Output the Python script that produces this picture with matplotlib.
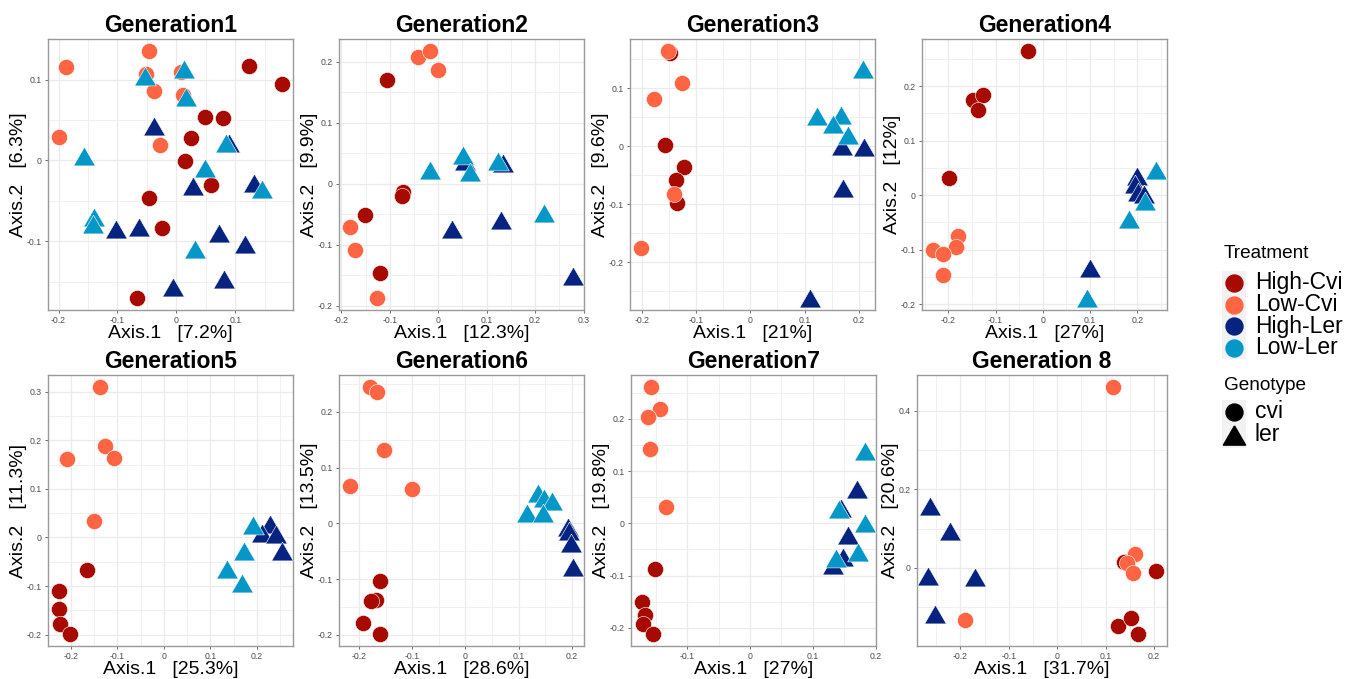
import matplotlib
matplotlib.use("Agg")
import matplotlib.pyplot as plt
import numpy as np
from matplotlib.ticker import MultipleLocator, FuncFormatter
from matplotlib.patches import Rectangle

plt.rcParams['font.family'] = ['Liberation Sans', 'DejaVu Sans']

treatments = ["High-Cvi", "Low-Cvi", "High-Ler", "Low-Ler"]
treat_colors = ["#A60A00", "#FF6443", "#06237F", "#0497C7"]
genotypes = ["cvi", "ler"]

titles = ["Generation1", "Generation2", "Generation3", "Generation4",
          "Generation5", "Generation6", "Generation7", "Generation 8"]
axis1_var = ["7.2%", "12.3%", "21%", "27%", "25.3%", "28.6%", "27%", "31.7%"]
axis2_var = ["6.3%", "9.9%", "9.6%", "12%", "11.3%", "13.5%", "19.8%", "20.6%"]

# Generation 1  (High-Cvi x10, Low-Cvi x8, High-Ler x10, Low-Ler x10)
g1_x = [0.123, 0.179, 0.049, 0.079, 0.024, 0.014, 0.059, -0.046, -0.025, -0.067,
        -0.047, -0.188, -0.052, -0.038, -0.199, -0.027, 0.008, 0.012,
        -0.038, 0.089, 0.028, 0.131, -0.103, -0.064, 0.072, 0.117, -0.006, 0.080,
        -0.053, 0.013, 0.017, -0.157, 0.084, 0.048, 0.145, -0.140, -0.141, 0.031]
g1_y = [0.117, 0.094, 0.054, 0.052, 0.028, -0.001, -0.031, -0.047, -0.084, -0.170,
        0.135, 0.116, 0.107, 0.086, 0.029, 0.019, 0.109, 0.081,
        0.042, 0.022, -0.032, -0.028, -0.085, -0.083, -0.090, -0.103, -0.157, -0.147,
        0.104, 0.113, 0.079, 0.005, 0.022, -0.010, -0.036, -0.070, -0.079, -0.110]
g1_trt = ["High-Cvi"] * 10 + ["Low-Cvi"] * 8 + ["High-Ler"] * 10 + ["Low-Ler"] * 10

# Generation 2
g2_x = [-0.106, -0.072, -0.075, -0.151, -0.121,
        -0.041, -0.017, 0.000, -0.182, -0.171, -0.127,
        0.055, 0.134, 0.029, 0.130, 0.278,
        0.051, 0.065, -0.017, 0.123, 0.219]
g2_y = [0.170, -0.014, -0.021, -0.051, -0.146,
        0.208, 0.217, 0.187, -0.071, -0.108, -0.187,
        0.037, 0.034, -0.075, -0.059, -0.152,
        0.047, 0.019, 0.022, 0.037, -0.048]
g2_trt = ["High-Cvi"] * 5 + ["Low-Cvi"] * 6 + ["High-Ler"] * 5 + ["Low-Ler"] * 5

# Generation 3
g3_x = [-0.147, -0.157, -0.123, -0.137, -0.135,
        -0.151, -0.125, -0.177, -0.140, -0.201,
        0.168, 0.209, 0.170, 0.110,
        0.123, 0.166, 0.153, 0.179, 0.208]
g3_y = [0.161, 0.002, -0.035, -0.058, -0.097,
        0.164, 0.110, 0.081, -0.082, -0.175,
        0.000, -0.001, -0.071, -0.261,
        0.053, 0.055, 0.039, 0.019, 0.133]
g3_trt = ["High-Cvi"] * 5 + ["Low-Cvi"] * 5 + ["High-Ler"] * 4 + ["Low-Ler"] * 5

# Generation 4
g4_x = [-0.031, -0.147, -0.127, -0.137, -0.198,
        -0.179, -0.184, -0.232, -0.212, -0.211,
        0.200, 0.194, 0.201, 0.214, 0.100,
        0.239, 0.215, 0.182, 0.094]
g4_y = [0.264, 0.174, 0.184, 0.156, 0.032,
        -0.074, -0.095, -0.101, -0.107, -0.147,
        0.036, 0.021, 0.006, 0.002, -0.133,
        0.046, -0.010, -0.044, -0.188]
g4_trt = ["High-Cvi"] * 5 + ["Low-Cvi"] * 5 + ["High-Ler"] * 5 + ["Low-Ler"] * 4

# Generation 5
g5_x = [-0.165, -0.225, -0.225, -0.224, -0.202,
        -0.138, -0.127, -0.108, -0.208, -0.149,
        0.228, 0.212, 0.241, 0.254,
        0.192, 0.173, 0.135, 0.168]
g5_y = [-0.067, -0.110, -0.148, -0.179, -0.198,
        0.309, 0.188, 0.164, 0.162, 0.034,
        0.027, 0.010, 0.007, -0.027,
        0.025, -0.027, -0.065, -0.093]
g5_trt = ["High-Cvi"] * 5 + ["Low-Cvi"] * 5 + ["High-Ler"] * 4 + ["Low-Ler"] * 4

# Generation 6
g6_x = [-0.161, -0.168, -0.178, -0.192, -0.161,
        -0.180, -0.167, -0.153, -0.217, -0.101,
        0.193, 0.195, 0.199, 0.202,
        0.137, 0.148, 0.162, 0.116, 0.146]
g6_y = [-0.104, -0.137, -0.140, -0.178, -0.198,
        0.244, 0.236, 0.131, 0.067, 0.061,
        -0.006, -0.014, -0.036, -0.078,
        0.054, 0.045, 0.040, 0.019, 0.018]
g6_trt = ["High-Cvi"] * 5 + ["Low-Cvi"] * 5 + ["High-Ler"] * 4 + ["Low-Ler"] * 5

# Generation 7
g7_x = [-0.151, -0.172, -0.167, -0.171, -0.155,
        -0.158, -0.143, -0.162, -0.159, -0.134,
        0.170, 0.145, 0.156, 0.148, 0.132,
        0.183, 0.141, 0.183, 0.172, 0.137]
g7_y = [-0.088, -0.151, -0.175, -0.192, -0.211,
        0.260, 0.219, 0.203, 0.143, 0.031,
        0.065, 0.030, -0.023, -0.065, -0.079,
        0.139, 0.028, 0.001, -0.055, -0.066]
g7_trt = ["High-Cvi"] * 5 + ["Low-Cvi"] * 5 + ["High-Ler"] * 5 + ["Low-Ler"] * 5

# Generation 8
g8_x = [0.203, 0.138, 0.126, 0.152, 0.166,
        0.116, 0.160, 0.143, 0.157, -0.191,
        -0.263, -0.221, -0.266, -0.169, -0.252]
g8_y = [-0.008, 0.014, -0.148, -0.127, -0.167,
        0.459, 0.035, 0.012, -0.012, -0.132,
        0.158, 0.094, -0.020, -0.022, -0.118]
g8_trt = ["High-Cvi"] * 5 + ["Low-Cvi"] * 5 + ["High-Ler"] * 5

gens = [(g1_x, g1_y, g1_trt), (g2_x, g2_y, g2_trt), (g3_x, g3_y, g3_trt),
        (g4_x, g4_y, g4_trt), (g5_x, g5_y, g5_trt), (g6_x, g6_y, g6_trt),
        (g7_x, g7_y, g7_trt), (g8_x, g8_y, g8_trt)]
y_steps = [0.1, 0.1, 0.1, 0.1, 0.1, 0.1, 0.1, 0.2]

W, H = 1359, 679
# panel boxes in pixels: left, top, width, height
panel_px = [(48, 39, 245, 271), (339, 39, 245, 271), (630, 39, 245, 271), (922, 39, 245, 271),
            (48, 375, 245, 271), (339, 375, 245, 271), (631, 375, 245, 271), (917, 375, 250, 271)]

# equilateral triangle, centred on its bounding box
tri = [(0, 0.75), (-0.866, -0.75), (0.866, -0.75), (0, 0.75)]


def tick_fmt(v, pos):
    s = f"{round(v, 6):g}"
    return "0" if s == "-0" else s


fig = plt.figure(figsize=(W / 100, H / 100), dpi=100)

for i, (xs, ys, trt) in enumerate(gens):
    l, t, w, h = panel_px[i]
    ax = fig.add_axes([l / W, 1 - (t + h) / H, w / W, h / H])
    xs = np.array(xs)
    ys = np.array(ys)
    trt = np.array(trt)
    for name, col in zip(treatments, treat_colors):
        m = trt == name
        if not m.any():
            continue
        if "Cvi" in name:
            ax.scatter(xs[m], ys[m], s=135, color=col, marker="o",
                       edgecolors="white", linewidths=0.4, zorder=3)
        else:
            ax.scatter(xs[m], ys[m], s=245, color=col, marker=tri,
                       edgecolors="white", linewidths=0.4, zorder=3)
    # ggplot-style 5% expansion
    xr = xs.max() - xs.min()
    yr = ys.max() - ys.min()
    ax.set_xlim(xs.min() - 0.05 * xr, xs.max() + 0.05 * xr)
    ax.set_ylim(ys.min() - 0.05 * yr, ys.max() + 0.05 * yr)
    ax.xaxis.set_major_locator(MultipleLocator(0.1))
    ax.xaxis.set_minor_locator(MultipleLocator(0.05))
    ax.yaxis.set_major_locator(MultipleLocator(y_steps[i]))
    ax.yaxis.set_minor_locator(MultipleLocator(y_steps[i] / 2))
    ax.xaxis.set_major_formatter(FuncFormatter(tick_fmt))
    ax.yaxis.set_major_formatter(FuncFormatter(tick_fmt))
    ax.grid(True, which="major", color="#EBEBEB", lw=0.9, zorder=0)
    ax.grid(True, which="minor", color="#EEEEEE", lw=0.6, zorder=0)
    ax.set_axisbelow(True)
    ax.tick_params(which="major", labelsize=6.3, labelcolor="#4D4D4D", length=2.5,
                   width=0.6, color="#555555", pad=2)
    ax.tick_params(which="minor", length=0)
    for sp in ax.spines.values():
        sp.set_color("#9A9A9A")
        sp.set_linewidth(1.0)
    ax.set_xlabel(f"Axis.1   [{axis1_var[i]}]", fontsize=14, labelpad=0)
    ax.set_ylabel(f"Axis.2   [{axis2_var[i]}]", fontsize=14, labelpad=0)
    ax.set_title(titles[i], fontsize=16.5, fontweight="bold", pad=5)

# legend drawn on an overlay in pixel units
lg = fig.add_axes([0, 0, 1, 1], zorder=-1)
lg.set_xlim(0, W)
lg.set_ylim(H, 0)
lg.axis("off")

lg.text(1224, 253, "Treatment", fontsize=13.7, va="center", ha="left")
lg.add_patch(Rectangle((1222, 271), 24, 88, color="#F2F2F2", lw=0))
for k, (name, col) in enumerate(zip(treatments, treat_colors)):
    yk = 283 + k * 21.6
    lg.plot(1234, yk, marker="o", markersize=12.2, color=col, linestyle="none")
    lg.text(1255, yk, name, fontsize=16.5, va="center", ha="left")

lg.text(1224, 386, "Genotype", fontsize=13.7, va="center", ha="left")
lg.add_patch(Rectangle((1222, 400), 24, 48, color="#F2F2F2", lw=0))
geno_markers = ["o", tri]
geno_sizes = [12.2, 16]
for k, g in enumerate(genotypes):
    yk = 412 + k * 22.5
    lg.plot(1234, yk, marker=geno_markers[k], markersize=geno_sizes[k],
            color="black", linestyle="none")
    lg.text(1255, yk, g, fontsize=16.5, va="center", ha="left")

fig.savefig("out.png", dpi=100)
